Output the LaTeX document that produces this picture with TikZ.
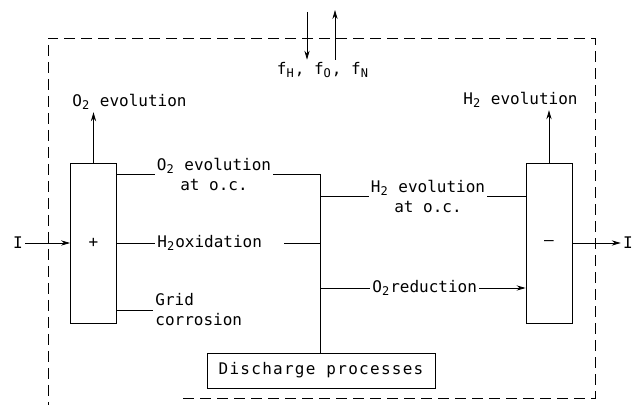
\documentclass[tikz,border=0pt]{standalone}
\usepackage{fontspec}
\setmonofont{DejaVu Sans Mono}
\usetikzlibrary{positioning,arrows.meta}

\begin{document}
\begin{tikzpicture}[
  x=0.5pt, y=-0.5pt,
  >={Stealth[length=4.5pt,width=2.6pt]},
  every node/.style={font=\ttfamily\fontsize{8}{10}\selectfont, inner sep=1pt},
  cell/.style={draw, minimum width=23pt, minimum height=80pt, inner sep=0pt},
  proc/.style={align=center},
  flow/.style={->},
  border/.style={dash pattern=on 5.5pt off 3pt},
]
\useasboundingbox (0,0) rectangle (632,405);

% electrodes and discharge box
\node[cell]                     (pos)   at (93.5,243) {+};
\node[cell]                     (neg)   at (549,243)  {\textendash};
\node[draw, minimum width=114pt, minimum height=17.5pt]
                                (dis)   at (321,370.5)
                                {\addfontfeature{LetterSpace=8}Discharge processes};

% labels
\node[anchor=west]              (o2evo) at (70,102)  {O\textsubscript{2} evolution};
\node[anchor=east]              (h2evo) at (580,100) {H\textsubscript{2} evolution};
\node[proc]                     (o2oc)  at (214,174) {O\textsubscript{2} evolution\\at o.c.};
\node[anchor=west]              (h2ox)  at (155,243) {H\textsubscript{2}oxidation};
\node[anchor=west, align=left]  (grid)  at (153,310) {Grid\\corrosion};
\node[proc]                     (h2oc)  at (428,196) {H\textsubscript{2} evolution\\at o.c.};
\node[anchor=west]              (o2red) at (370,288) {O\textsubscript{2}reduction};
\node                           (flux)  at (323,70)  {f\textsubscript{H}, f\textsubscript{O}, f\textsubscript{N}};
\node                           (Iin)   at (18,243)  {I};
\node                           (Iout)  at (628,243) {I};
\coordinate (bus)  at (320,174);
\coordinate (fin)  at (307,12);
\coordinate (fout) at (335,10);

% cell boundary
\draw[border] (183,398) -- (595,398) -- (595,38) -- (48,38) -- (48,405);

\draw[flow] (Iin) -- (pos.west);
\draw[flow] (neg.east) -- (Iout);
\draw[flow] (pos.north) -- (pos.north |- o2evo.south);
\draw[flow] (neg.north) -- (neg.north |- h2evo.south);
\draw[flow] (fin) -- (fin |- flux.north);
\draw[flow] (fout |- flux.north) -- (fout);

\draw (pos.east |- o2oc) -- (o2oc.west);
\draw (o2oc.east) -- (o2oc.east -| bus) -- (bus |- dis.north);
\draw (pos.east |- h2ox) -- (h2ox.west);
\draw[shorten <=10pt] (h2ox.east) -- (bus |- h2ox);
\draw (pos.east |- grid) -- (grid.west);
\draw (bus |- h2oc) -- (h2oc.west);
\draw (h2oc.east) -- (neg.west |- h2oc);
\draw (bus |- o2red) -- (o2red.west);
\draw[flow] (o2red.east) -- (neg.west |- o2red);
\end{tikzpicture}
\end{document}
